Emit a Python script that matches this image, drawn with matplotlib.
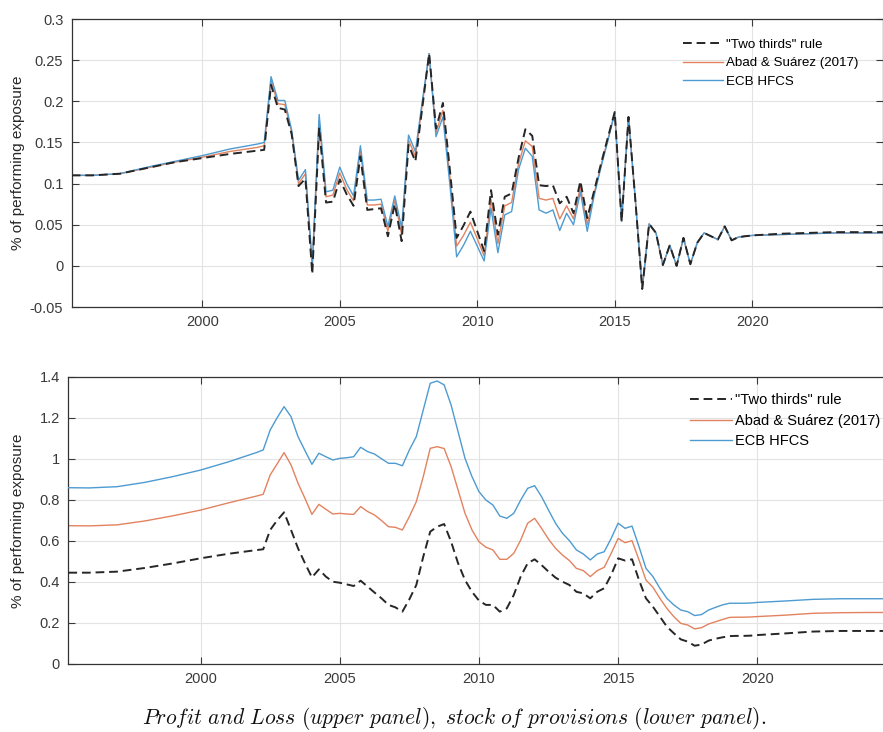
import numpy as np
import matplotlib
matplotlib.use('Agg')
import matplotlib.pyplot as plt
from matplotlib.ticker import FormatStrFormatter

plt.rcParams['font.family'] = ['Liberation Sans', 'DejaVu Sans']
plt.rcParams['mathtext.fontset'] = 'cm'

labels = ['"Two thirds" rule', 'Abad & Suárez (2017)', 'ECB HFCS']

# time axis: yearly points before 2002Q2, quarterly 2002Q2-2019Q4, yearly after
t_early = [1995.25, 1996, 1997, 1998, 1999, 2000, 2001, 2002]
t_quarters = list(np.arange(2002.25, 2020.0, 0.25))
t_late = [2020, 2021, 2022, 2023, 2024, 2024.75]
years = t_early + t_quarters + t_late

# upper panel: profit and loss
pl_two_thirds = [
    0.110, 0.110, 0.112, 0.119, 0.126, 0.131, 0.136, 0.140,
    0.141, 0.220, 0.192, 0.190, 0.160, 0.097, 0.106, -0.010,
    0.168, 0.077, 0.078, 0.105, 0.087, 0.073, 0.133, 0.068,
    0.069, 0.070, 0.036, 0.075, 0.030, 0.147, 0.127, 0.192,
    0.258, 0.167, 0.198, 0.118, 0.034, 0.049, 0.066, 0.042,
    0.018, 0.092, 0.038, 0.084, 0.088, 0.131, 0.166, 0.158,
    0.098, 0.097, 0.098, 0.076, 0.084, 0.064, 0.103, 0.058,
    0.091, 0.124, 0.156, 0.187, 0.054, 0.181, 0.080, -0.028,
    0.051, 0.040, 0.001, 0.025, 0.000, 0.034, 0.002, 0.028,
    0.040, 0.036, 0.032, 0.048, 0.031, 0.035, 0.036,
    0.037, 0.039, 0.040, 0.041, 0.041, 0.041,
]
pl_abad = [
    0.110, 0.110, 0.112, 0.119, 0.126, 0.132, 0.139, 0.144,
    0.146, 0.225, 0.197, 0.196, 0.163, 0.100, 0.112, -0.003,
    0.176, 0.084, 0.086, 0.113, 0.093, 0.079, 0.140, 0.074,
    0.074, 0.075, 0.042, 0.080, 0.038, 0.153, 0.133, 0.196,
    0.258, 0.162, 0.189, 0.110, 0.024, 0.037, 0.053, 0.033,
    0.012, 0.081, 0.027, 0.073, 0.077, 0.124, 0.152, 0.145,
    0.082, 0.080, 0.082, 0.057, 0.073, 0.057, 0.096, 0.050,
    0.088, 0.122, 0.154, 0.186, 0.054, 0.181, 0.080, -0.028,
    0.051, 0.040, 0.001, 0.025, 0.000, 0.034, 0.002, 0.028,
    0.040, 0.036, 0.032, 0.048, 0.031, 0.035, 0.036,
    0.037, 0.038, 0.039, 0.040, 0.040, 0.040,
]
pl_ecb = [
    0.110, 0.110, 0.112, 0.120, 0.127, 0.134, 0.142, 0.148,
    0.150, 0.230, 0.201, 0.201, 0.165, 0.104, 0.117, 0.003,
    0.184, 0.090, 0.092, 0.120, 0.100, 0.085, 0.146, 0.080,
    0.080, 0.081, 0.048, 0.085, 0.046, 0.159, 0.139, 0.200,
    0.258, 0.157, 0.181, 0.100, 0.011, 0.025, 0.042, 0.024,
    0.006, 0.070, 0.016, 0.062, 0.066, 0.117, 0.143, 0.133,
    0.068, 0.064, 0.068, 0.043, 0.064, 0.050, 0.090, 0.042,
    0.085, 0.120, 0.152, 0.186, 0.054, 0.181, 0.080, -0.028,
    0.051, 0.040, 0.001, 0.025, 0.000, 0.034, 0.002, 0.028,
    0.040, 0.036, 0.032, 0.048, 0.031, 0.035, 0.036,
    0.037, 0.038, 0.039, 0.040, 0.040, 0.040,
]

# lower panel: stock of provisions
prov_two_thirds = [
    0.445, 0.445, 0.450, 0.468, 0.490, 0.515, 0.537, 0.555,
    0.559, 0.653, 0.700, 0.739, 0.653, 0.564, 0.491, 0.422,
    0.461, 0.426, 0.401, 0.396, 0.388, 0.380, 0.406, 0.377,
    0.348, 0.320, 0.288, 0.276, 0.255, 0.315, 0.385, 0.523,
    0.645, 0.669, 0.682, 0.596, 0.491, 0.409, 0.352, 0.309,
    0.288, 0.288, 0.255, 0.271, 0.336, 0.426, 0.491, 0.510,
    0.482, 0.450, 0.421, 0.401, 0.385, 0.352, 0.344, 0.320,
    0.352, 0.369, 0.434, 0.515, 0.504, 0.510, 0.409, 0.320,
    0.279, 0.231, 0.182, 0.150, 0.120, 0.109, 0.089, 0.095,
    0.114, 0.123, 0.130, 0.136, 0.137, 0.137, 0.138,
    0.141, 0.149, 0.158, 0.161, 0.161, 0.161,
]
prov_abad = [
    0.674, 0.673, 0.678, 0.697, 0.722, 0.750, 0.785, 0.818,
    0.827, 0.921, 0.975, 1.030, 0.970, 0.881, 0.807, 0.729,
    0.778, 0.754, 0.731, 0.734, 0.731, 0.729, 0.767, 0.743,
    0.726, 0.699, 0.669, 0.666, 0.653, 0.718, 0.791, 0.913,
    1.051, 1.059, 1.050, 0.962, 0.848, 0.734, 0.653, 0.596,
    0.569, 0.556, 0.510, 0.510, 0.539, 0.604, 0.686, 0.710,
    0.661, 0.608, 0.564, 0.531, 0.504, 0.466, 0.455, 0.426,
    0.455, 0.471, 0.539, 0.612, 0.591, 0.601, 0.507, 0.409,
    0.374, 0.320, 0.271, 0.231, 0.198, 0.190, 0.171, 0.177,
    0.195, 0.206, 0.217, 0.227, 0.228, 0.228, 0.229,
    0.231, 0.238, 0.247, 0.250, 0.251, 0.251,
]
prov_ecb = [
    0.859, 0.858, 0.864, 0.885, 0.913, 0.945, 0.985, 1.030,
    1.043, 1.140, 1.200, 1.254, 1.205, 1.108, 1.040, 0.973,
    1.027, 1.010, 0.994, 1.002, 1.005, 1.010, 1.056, 1.035,
    1.023, 1.000, 0.978, 0.978, 0.966, 1.043, 1.108, 1.238,
    1.368, 1.379, 1.360, 1.262, 1.132, 1.002, 0.913, 0.840,
    0.799, 0.775, 0.721, 0.710, 0.734, 0.799, 0.856, 0.869,
    0.815, 0.750, 0.686, 0.637, 0.601, 0.556, 0.536, 0.507,
    0.536, 0.547, 0.612, 0.686, 0.661, 0.672, 0.572, 0.466,
    0.426, 0.369, 0.320, 0.288, 0.263, 0.255, 0.236, 0.241,
    0.263, 0.276, 0.288, 0.296, 0.296, 0.296, 0.297,
    0.300, 0.307, 0.315, 0.318, 0.318, 0.318,
]

c_black = '#262626'
c_orange = '#E3825F'
c_blue = '#4D9BD1'

fig = plt.figure(figsize=(8.83, 7.32), dpi=100)
ax1 = fig.add_axes([0.0812, 0.5806, 0.9186, 0.3934])
ax2 = fig.add_axes([0.0774, 0.0929, 0.9300, 0.3925])


def style_axis(ax, yticks):
    ax.set_xlim(1995.25, 2024.75)
    ax.set_xticks([2000, 2005, 2010, 2015, 2020])
    ax.set_yticks(yticks)
    ax.set_ylim(yticks[0], yticks[-1])
    ax.yaxis.set_major_formatter(FormatStrFormatter('%g'))
    ax.grid(True, color='#e3e3e3', linewidth=0.8)
    ax.set_axisbelow(True)
    ax.tick_params(direction='in', length=5, width=0.8, top=True, right=True,
                   labelsize=10.5, colors='#3a3a3a', pad=6)
    for s in ax.spines.values():
        s.set_color('#333333')
        s.set_linewidth(0.9)
    ax.set_ylabel('% of performing exposure', fontsize=11, color='#262626')


dash = (0, (4.5, 2.5))
ax1.plot(years, pl_two_thirds, color=c_black, lw=1.4, ls=dash, label=labels[0], zorder=4)
ax1.plot(years, pl_abad, color=c_orange, lw=1.0, label=labels[1], zorder=2)
ax1.plot(years, pl_ecb, color=c_blue, lw=1.0, label=labels[2], zorder=3)
style_axis(ax1, [-0.05, 0, 0.05, 0.1, 0.15, 0.2, 0.25, 0.3])
ax1.yaxis.set_label_coords(-0.058, 0.5)
ax1.legend(loc='upper left', bbox_to_anchor=(0.7735, 0.947), bbox_transform=fig.transFigure,
           frameon=False, fontsize=9.6, handlelength=3.0, handletextpad=0.2,
           labelspacing=0.45, borderpad=0, borderaxespad=0)

ax2.plot(years, prov_two_thirds, color=c_black, lw=1.4, ls=dash, label=labels[0], zorder=4)
ax2.plot(years, prov_abad, color=c_orange, lw=1.0, label=labels[1], zorder=2)
ax2.plot(years, prov_ecb, color=c_blue, lw=1.0, label=labels[2], zorder=3)
style_axis(ax2, [0, 0.2, 0.4, 0.6, 0.8, 1.0, 1.2, 1.4])
ax2.yaxis.set_label_coords(-0.053, 0.5)
ax2.legend(loc='upper left', bbox_to_anchor=(0.7814, 0.463), bbox_transform=fig.transFigure,
           frameon=False, fontsize=10.5, handlelength=2.9, handletextpad=0.2,
           labelspacing=0.45, borderpad=0, borderaxespad=0)

fig.text(0.514, 0.019,
         r'$\mathit{Profit\ and\ Loss\ (upper\ panel),\ stock\ of\ provisions\ (lower\ panel).}$',
         ha='center', va='center', fontsize=15.5, color='#111111')

fig.savefig('out.png', dpi=100)
